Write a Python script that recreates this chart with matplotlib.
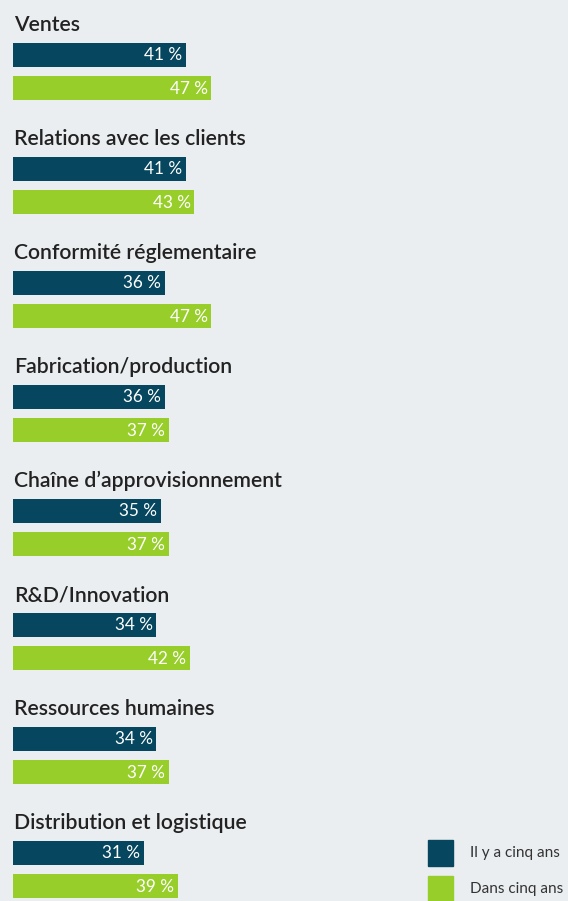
import matplotlib
matplotlib.use("Agg")
import matplotlib.pyplot as plt
from matplotlib.patches import Rectangle

plt.rcParams['font.family'] = ['Lato', 'DejaVu Sans']

# Data
CATEGORIES = [
    "Ventes",
    "Relations avec les clients",
    "Conformité réglementaire",
    "Fabrication/production",
    "Chaîne d’approvisionnement",
    "R&D/Innovation",
    "Ressources humaines",
    "Distribution et logistique",
]
PAST = [41, 41, 36, 36, 35, 34, 34, 31]
FUTURE = [47, 43, 47, 37, 37, 42, 37, 39]
SERIES_NAMES = ["Il y a cinq ans", "Dans cinq ans"]

# Style
W, H, DPI = 568, 901, 100
BG = "#eaeef0"
DARK = "#06475f"
GREEN = "#97ce2a"
TITLE_COLOR = "#222222"
PX_PER_PCT = 4.22
LEFT_PX = 13
GROUP_STEP = 114
FIRST_TITLE = 25
BAR_H = 24

fig = plt.figure(figsize=(W / DPI, H / DPI), dpi=DPI, facecolor=BG)
ax = fig.add_axes([0, 0, 1, 1])
ax.set_facecolor(BG)
ax.set_xlim(-LEFT_PX / PX_PER_PCT, (W - LEFT_PX) / PX_PER_PCT)
ax.set_ylim(H, 0)
ax.axis('off')

for i, (cat, p, f) in enumerate(zip(CATEGORIES, PAST, FUTURE)):
    top = FIRST_TITLE + i * GROUP_STEP
    ax.text(0.2, top, cat, fontsize=15.3, color=TITLE_COLOR, va='center',
            ha='left', fontweight='semibold')
    for val, yc, col in [(p, top + 30, DARK), (f, top + 63, GREEN)]:
        ax.barh(yc, val, height=BAR_H, left=0, color=col)
        ax.text(val - 0.9, yc + 0.5, f"{val} %", fontsize=12.3, color='white',
                va='center', ha='right')

# Legend
for j, (name, col) in enumerate(zip(SERIES_NAMES, [DARK, GREEN])):
    yc = 853 + j * 36
    fig.add_artist(Rectangle((428 / W, 1 - (yc + 13) / H), 25 / W, 26 / H,
                             transform=fig.transFigure, color=col))
    fig.text(470 / W, 1 - yc / H, name, fontsize=11, color='#333333',
             va='center', ha='left')

fig.savefig("out.png", dpi=DPI, facecolor=BG)
